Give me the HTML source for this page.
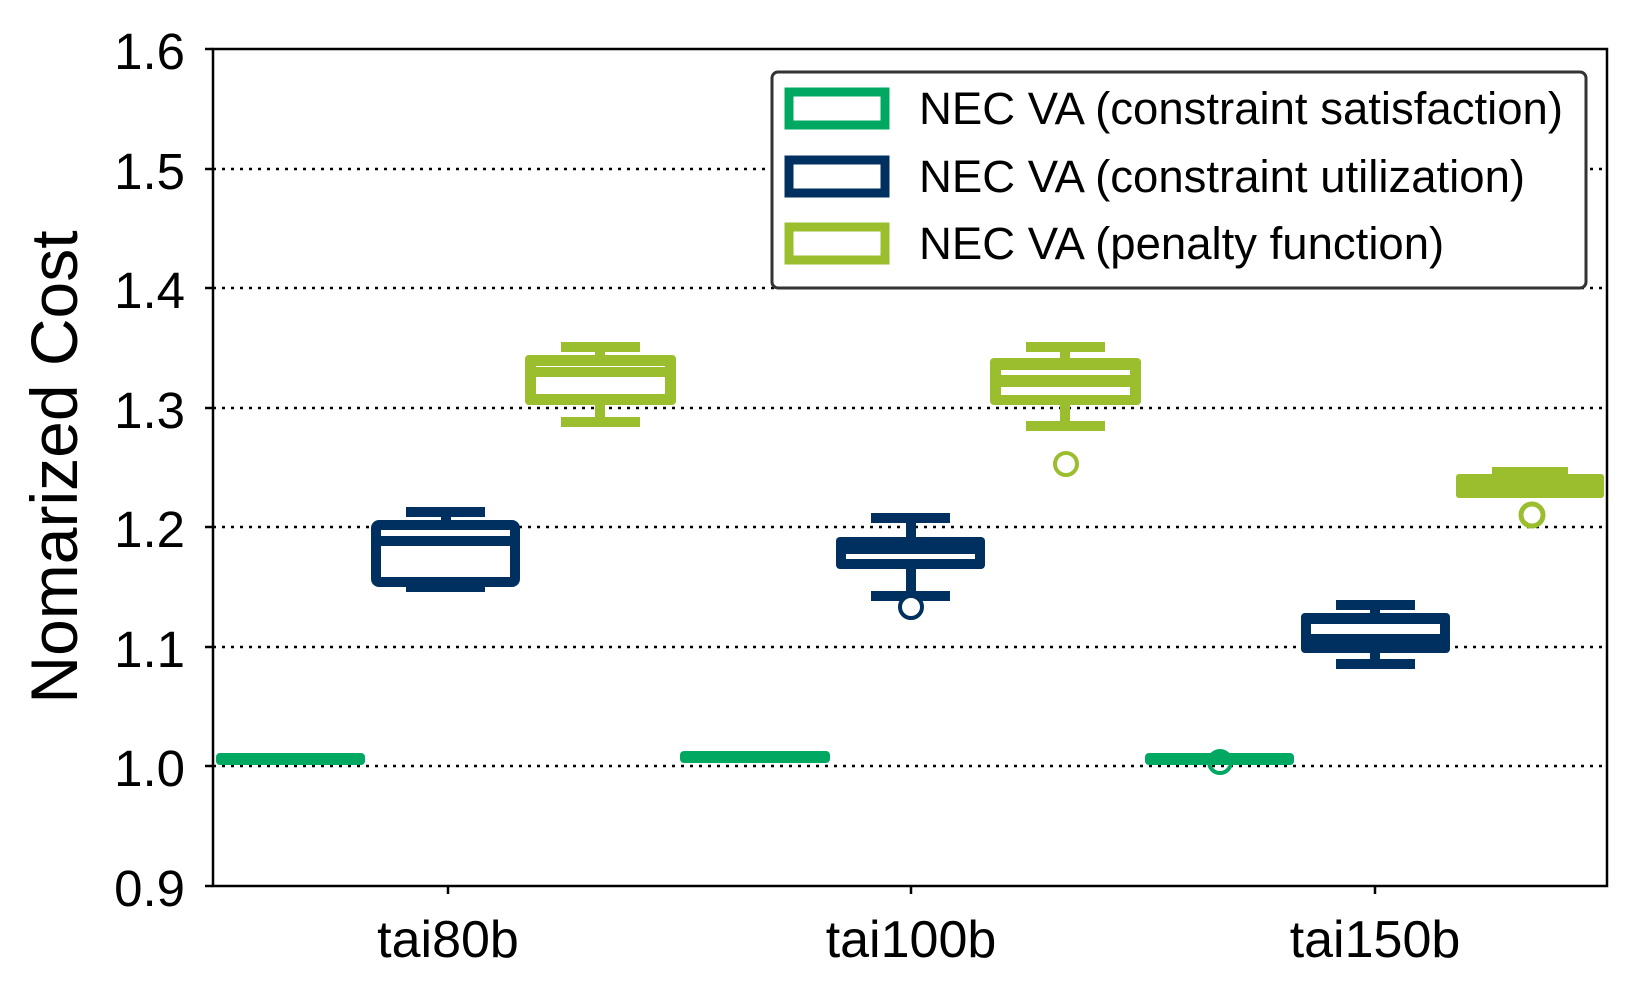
<!DOCTYPE html>
<html><head><meta charset="utf-8"><style>html,body{margin:0;padding:0;background:#fff}</style></head>
<body>
<svg width="1638" height="995" viewBox="0 0 1638 995" xmlns="http://www.w3.org/2000/svg" font-family="Liberation Sans, Arial, sans-serif">
<rect width="1638" height="995" fill="#fff"/>
<g stroke="#000" stroke-width="2.5" stroke-dasharray="3,6">
<line x1="213" y1="169" x2="1607" y2="169"/>
<line x1="213" y1="288" x2="1607" y2="288"/>
<line x1="213" y1="408" x2="1607" y2="408"/>
<line x1="213" y1="527" x2="1607" y2="527"/>
<line x1="213" y1="647" x2="1607" y2="647"/>
<line x1="213" y1="766" x2="1607" y2="766"/>
</g>
<rect x="213" y="49" width="1394" height="837" fill="none" stroke="#000" stroke-width="2.5"/>
<g stroke="#000" stroke-width="2.5">
<line x1="205" y1="49" x2="213" y2="49"/><line x1="205" y1="169" x2="213" y2="169"/>
<line x1="205" y1="288" x2="213" y2="288"/><line x1="205" y1="408" x2="213" y2="408"/>
<line x1="205" y1="527" x2="213" y2="527"/><line x1="205" y1="647" x2="213" y2="647"/>
<line x1="205" y1="766" x2="213" y2="766"/><line x1="205" y1="886" x2="213" y2="886"/>
<line x1="448" y1="886" x2="448" y2="894"/><line x1="911" y1="886" x2="911" y2="894"/>
<line x1="1375" y1="886" x2="1375" y2="894"/>
</g>
<g font-size="51" text-anchor="end" fill="#000">
<text x="185" y="69">1.6</text><text x="185" y="189">1.5</text><text x="185" y="308">1.4</text>
<text x="185" y="428">1.3</text><text x="185" y="547">1.2</text><text x="185" y="667">1.1</text>
<text x="185" y="786">1.0</text><text x="185" y="906">0.9</text>
</g>
<g font-size="52" text-anchor="middle" fill="#000">
<text x="448" y="957">tai80b</text><text x="911" y="957">tai100b</text><text x="1375" y="957">tai150b</text>
</g>
<text x="0" y="0" font-size="66" text-anchor="middle" dominant-baseline="central" transform="translate(54,467) rotate(-90)">Nomarized Cost</text>

<g fill="#00a862">
<rect x="216" y="753" width="149" height="12" rx="4"/>
<rect x="680" y="751" width="150" height="12" rx="4"/>
<rect x="1145" y="753" width="149" height="12" rx="4"/>
</g>
<circle cx="1220" cy="762" r="11" fill="none" stroke="#00a862" stroke-width="4"/>

<g stroke="#003060" fill="none" stroke-width="10">
<line x1="446" y1="512" x2="446" y2="525"/>
<rect x="406" y="507" width="79" height="10" fill="#003060" stroke="none"/>
<rect x="376" y="525" width="139" height="57" rx="3"/>
<line x1="376" y1="541" x2="515" y2="541"/>
<rect x="406" y="582" width="79" height="10" fill="#003060" stroke="none"/>

<line x1="911" y1="518" x2="911" y2="596"/>
<rect x="871" y="513" width="79" height="10" fill="#003060" stroke="none"/>
<rect x="836" y="537" width="149" height="32" fill="#003060" stroke="none" rx="4"/>
<rect x="846" y="554" width="129" height="5" fill="#fff" stroke="none"/>
<rect x="871" y="591" width="79" height="10" fill="#003060" stroke="none"/>
<circle cx="911" cy="607" r="11" fill="#fff" stroke-width="4"/>

<line x1="1375" y1="605" x2="1375" y2="664"/>
<rect x="1336" y="600" width="79" height="10" fill="#003060" stroke="none"/>
<rect x="1301" y="613" width="149" height="40" fill="#003060" stroke="none" rx="4"/>
<rect x="1311" y="624" width="129" height="10" fill="#fff" stroke="none"/>
<rect x="1336" y="659" width="79" height="10" fill="#003060" stroke="none"/>
</g>

<g stroke="#9abe2e" fill="none" stroke-width="10">
<line x1="600" y1="347" x2="600" y2="422"/>
<rect x="561" y="342" width="79" height="10" fill="#9abe2e" stroke="none"/>
<rect x="525" y="355" width="151" height="50" fill="#9abe2e" stroke="none" rx="4"/>
<rect x="536" y="366" width="129" height="1" fill="#fff" stroke="none"/>
<rect x="536" y="377" width="129" height="17" fill="#fff" stroke="none"/>
<line x1="600" y1="394" x2="600" y2="422"/>
<rect x="561" y="417" width="79" height="10" fill="#9abe2e" stroke="none"/>

<line x1="1065" y1="347" x2="1065" y2="426"/>
<rect x="1026" y="342" width="79" height="10" fill="#9abe2e" stroke="none"/>
<rect x="990" y="358" width="151" height="47" fill="#9abe2e" stroke="none" rx="4"/>
<rect x="1001" y="370" width="129" height="5" fill="#fff" stroke="none"/>
<rect x="1001" y="387" width="129" height="8" fill="#fff" stroke="none"/>
<rect x="1026" y="421" width="79" height="10" fill="#9abe2e" stroke="none"/>
<circle cx="1066" cy="464" r="11" stroke-width="4"/>

<rect x="1492" y="467" width="76" height="10" fill="#9abe2e" stroke="none"/>
<rect x="1456" y="474" width="148" height="24" fill="#9abe2e" stroke="none" rx="3"/>
<circle cx="1532" cy="515" r="11" stroke-width="5"/>
</g>

<rect x="772" y="72" width="814" height="216" rx="6" fill="#fff" stroke="#333" stroke-width="3"/>
<g fill="none" stroke-width="9">
<rect x="789" y="92" width="96" height="33" stroke="#00a862"/>
<rect x="789" y="160" width="96" height="33" stroke="#003060"/>
<rect x="789" y="227" width="96" height="33" stroke="#9abe2e"/>
</g>
<g font-size="45.5" fill="#000">
<text x="919" y="124">NEC VA (constraint satisfaction)</text>
<text x="919" y="192">NEC VA (constraint utilization)</text>
<text x="919" y="259">NEC VA (penalty function)</text>
</g>
</svg>
</body></html>
